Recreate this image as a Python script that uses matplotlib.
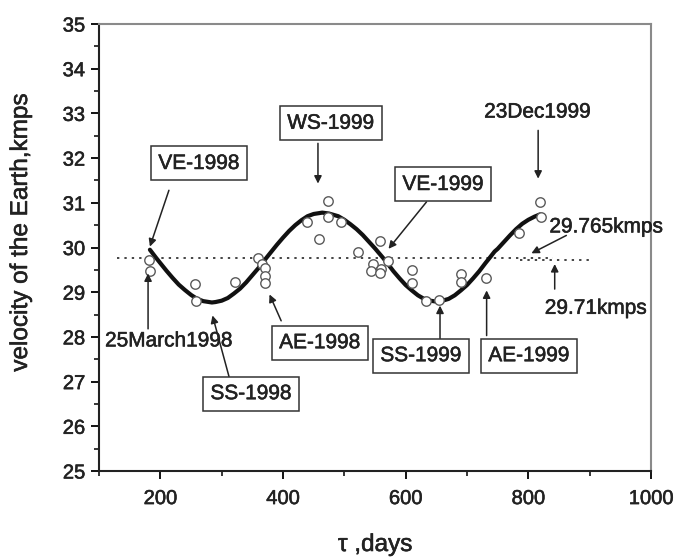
import matplotlib
matplotlib.use("Agg")
import matplotlib.pyplot as plt
from matplotlib.ticker import MultipleLocator
import matplotlib.patheffects as pe

plt.rcParams['font.family'] = ['Liberation Sans', 'DejaVu Sans']

# ---- data ----
tau_obs = [182, 183, 257, 258, 322, 360, 366, 371, 370, 371,
           439, 474, 474, 494, 459, 523, 558, 546, 543, 559, 558, 572,
           610, 611, 633, 655, 690, 690, 731, 784, 819, 820]
v_obs = [29.72, 29.48, 29.19, 28.80, 29.22, 29.76, 29.64, 29.55, 29.37, 29.21,
         30.57, 31.04, 30.68, 30.57, 30.18, 29.91, 30.14, 29.62, 29.48, 29.52, 29.42, 29.69,
         29.50, 29.21, 28.81, 28.83, 29.40, 29.22, 29.32, 30.33, 31.02, 30.68]

tau_fit = [183, 193, 200, 210, 220, 230, 240, 250, 260, 270, 284,
           290, 300, 310, 320, 330, 340, 350, 360, 373,
           380, 390, 400, 410, 420, 430, 440, 450, 464,
           475, 490, 500, 510, 520, 530, 540, 550, 563,
           570, 580, 590, 600, 610, 620, 630, 640, 650,
           660, 670, 680, 690, 700, 710, 720, 730, 737,
           745, 750, 760, 770, 780, 790, 800, 810, 819]
v_fit = [29.95, 29.77, 29.65, 29.48, 29.32, 29.17, 29.05, 28.94, 28.85, 28.80, 28.77,
         28.78, 28.81, 28.87, 28.97, 29.08, 29.22, 29.38, 29.54, 29.77,
         29.89, 30.06, 30.22, 30.37, 30.50, 30.61, 30.70, 30.75, 30.78,
         30.76, 30.70, 30.62, 30.52, 30.41, 30.28, 30.13, 29.98, 29.77,
         29.65, 29.47, 29.31, 29.16, 29.04, 28.93, 28.85, 28.81, 28.79,
         28.81, 28.85, 28.93, 29.04, 29.16, 29.31, 29.47, 29.65, 29.77,
         29.91, 29.97, 30.12, 30.27, 30.41, 30.53, 30.62, 30.69, 30.74]

mean_all = 29.765
mean_short = 29.71
mean_all_span = [130, 840]
mean_short_span = [787, 905]

x_ticks = [200, 400, 600, 800, 1000]
y_ticks = [25, 26, 27, 28, 29, 30, 31, 32, 33, 34, 35]

boxed_labels = ["VE-1998", "SS-1998", "AE-1998", "WS-1999", "VE-1999", "SS-1999", "AE-1999"]
plain_labels = ["25March1998", "23Dec1999", "29.765kmps", "29.71kmps"]

# ---- figure ----
W, H = 676, 558
fig = plt.figure(figsize=(W / 100, H / 100), dpi=100)
L, R, T, B = 99, 651, 24, 471
ax = fig.add_axes([L / W, 1 - B / H, (R - L) / W, (B - T) / H])

TXT = '#222222'
thick = [pe.withStroke(linewidth=0.4, foreground=TXT)]

ax.plot(mean_all_span, [mean_all, mean_all], linestyle=(0, (1.2, 2.6)), color='#444444', lw=1.4)
ax.plot(mean_short_span, [mean_short, mean_short], linestyle=(0, (1.2, 2.6)), color='#444444', lw=1.4)
ax.plot(tau_fit, v_fit, color='#111111', lw=3.0, solid_capstyle='round', zorder=3)
ax.plot(tau_obs, v_obs, linestyle='none', marker='o', ms=6.8, mfc='white', mec='#5a5a5a',
        mew=1.0, zorder=4)

ax.set_xlim(100, 1000)
ax.set_ylim(25, 35)
ax.set_xticks(x_ticks)
ax.set_yticks(y_ticks)
ax.xaxis.set_minor_locator(MultipleLocator(100))
ax.yaxis.set_minor_locator(MultipleLocator(0.5))
ax.tick_params(which='major', direction='out', length=6, width=1.3, labelsize=14.5,
               labelcolor=TXT, pad=4)
ax.tick_params(which='minor', direction='out', length=3.5, width=1.1)
ax.tick_params(axis='x', pad=7)
for lab in ax.get_xticklabels() + ax.get_yticklabels():
    lab.set_path_effects(thick)
for s in ['left', 'bottom']:
    ax.spines[s].set_linewidth(1.5)
    ax.spines[s].set_color('#222222')
for s in ['top', 'right']:
    ax.spines[s].set_linewidth(1.5)
    ax.spines[s].set_color('#8a8a8a')

fig.text(21 / W, 1 - 233 / H, "velocity of the Earth,kmps", fontsize=17.5, color=TXT,
         rotation=90, ha='center', va='center', path_effects=thick)
fig.text((L + R) / 2 / W, 1 - 545 / H, "τ ,days", fontsize=17.5, color=TXT,
         ha='center', va='center', path_effects=thick)

box = dict(boxstyle='square,pad=0.36', fc='white', ec='#333333', lw=1.1)
arrow = dict(arrowstyle='-|>', color='#222222', lw=1.1, mutation_scale=11, shrinkA=0, shrinkB=0)

# boxed labels: (text position, arrow tail, arrow head)
boxed_pos = [((263, 31.88), (214, 31.28), (183, 30.02)),
             ((348, 26.73), (312, 27.11), (285, 28.48)),
             ((460, 27.87), (397, 28.36), (378, 28.95)),
             ((478, 32.78), (457, 32.33), (457, 31.43)),
             ((661, 31.41), (634, 31.02), (572, 29.97)),
             ((625, 27.58), (656, 27.96), (656, 28.70)),
             ((801, 27.58), (732, 28.03), (732, 29.04))]
plain_pos = [((214, 27.91), (180, 28.18), (180, 29.42)),
             ((815, 33.03), (816, 32.62), (816, 31.54)),
             ((927, 30.46), (862, 30.27), (805, 29.87)),
             ((910, 28.64), (843, 29.07), (843, 29.63))]

for lab, (tp, tail, head) in zip(boxed_labels, boxed_pos):
    ax.text(tp[0], tp[1], lab, fontsize=15, color=TXT, ha='center', va='center',
            bbox=box, zorder=6, clip_on=False, path_effects=thick)
    ax.annotate("", xy=head, xytext=tail, arrowprops=arrow, zorder=5)

for lab, (tp, tail, head) in zip(plain_labels, plain_pos):
    ax.text(tp[0], tp[1], lab, fontsize=15, color=TXT, ha='center', va='center',
            zorder=6, clip_on=False, path_effects=thick)
    ax.annotate("", xy=head, xytext=tail, arrowprops=arrow, zorder=5)

fig.savefig("out.png", dpi=100)
